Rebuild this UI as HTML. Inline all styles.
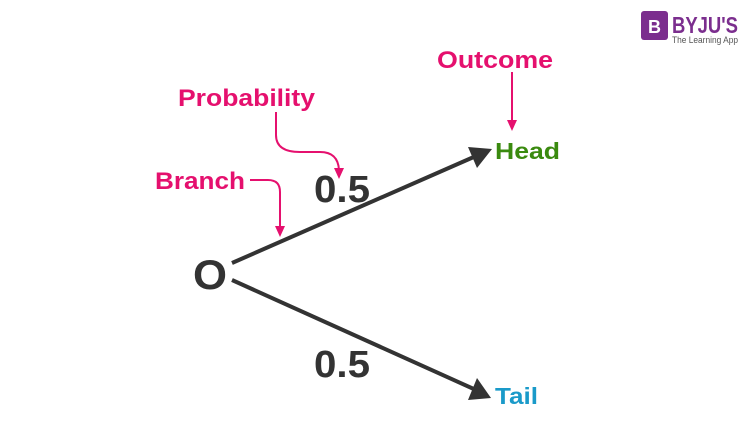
<!DOCTYPE html>
<html><head><meta charset="utf-8"><style>
html,body{margin:0;padding:0;background:#fff;}
svg{display:block;font-family:"Liberation Sans",Arial,sans-serif;font-weight:bold;}
</style></head><body>
<svg width="750" height="446" viewBox="0 0 750 446" xmlns="http://www.w3.org/2000/svg">
<rect width="750" height="446" fill="#fff"/>
<rect x="641" y="11" width="27" height="29" rx="3" fill="#7b2e8e"/>
<text x="654.5" y="33" font-size="18" fill="#fff" text-anchor="middle">B</text>
<text x="672" y="33" font-size="23" fill="#7b2e8e" textLength="66" lengthAdjust="spacingAndGlyphs">BYJU'S</text>
<text x="672" y="43" font-size="9" font-weight="normal" fill="#555" textLength="66" lengthAdjust="spacingAndGlyphs">The Learning App</text>
<line x1="232" y1="263" x2="476" y2="156" stroke="#333" stroke-width="4"/>
<polygon points="492,149 468,147 477,168" fill="#333"/>
<line x1="232" y1="280" x2="476" y2="390" stroke="#333" stroke-width="4"/>
<polygon points="491,398 468,400 477,378" fill="#333"/>
<text x="193" y="289" font-size="42" fill="#333" textLength="34" lengthAdjust="spacingAndGlyphs">O</text>
<text x="314" y="202" font-size="38" fill="#333" textLength="56" lengthAdjust="spacingAndGlyphs">0.5</text>
<text x="314" y="377" font-size="38" fill="#333" textLength="56" lengthAdjust="spacingAndGlyphs">0.5</text>
<text x="495" y="159" font-size="23" fill="#3a8a0f" textLength="65" lengthAdjust="spacingAndGlyphs">Head</text>
<text x="495" y="404" font-size="23" fill="#1a9ac9" textLength="43" lengthAdjust="spacingAndGlyphs">Tail</text>
<g fill="#e5106e" font-size="24">
<text x="437" y="68" textLength="116" lengthAdjust="spacingAndGlyphs">Outcome</text>
<text x="178" y="106" textLength="137" lengthAdjust="spacingAndGlyphs">Probability</text>
<text x="155" y="189" textLength="90" lengthAdjust="spacingAndGlyphs">Branch</text>
</g>
<g stroke="#e5106e" stroke-width="2" fill="none">
<line x1="512" y1="72" x2="512" y2="122"/>
<path d="M276 112 V135 Q276 152 300 152 H320 Q338 152 339 170"/>
<path d="M250 180 H268 Q280 180 280 192 V228"/>
</g>
<g fill="#e5106e">
<polygon points="507,120 517,120 512,131"/>
<polygon points="334,168 344,168 339,179"/>
<polygon points="275,226 285,226 280,237"/>
</g>
</svg>
</body></html>
